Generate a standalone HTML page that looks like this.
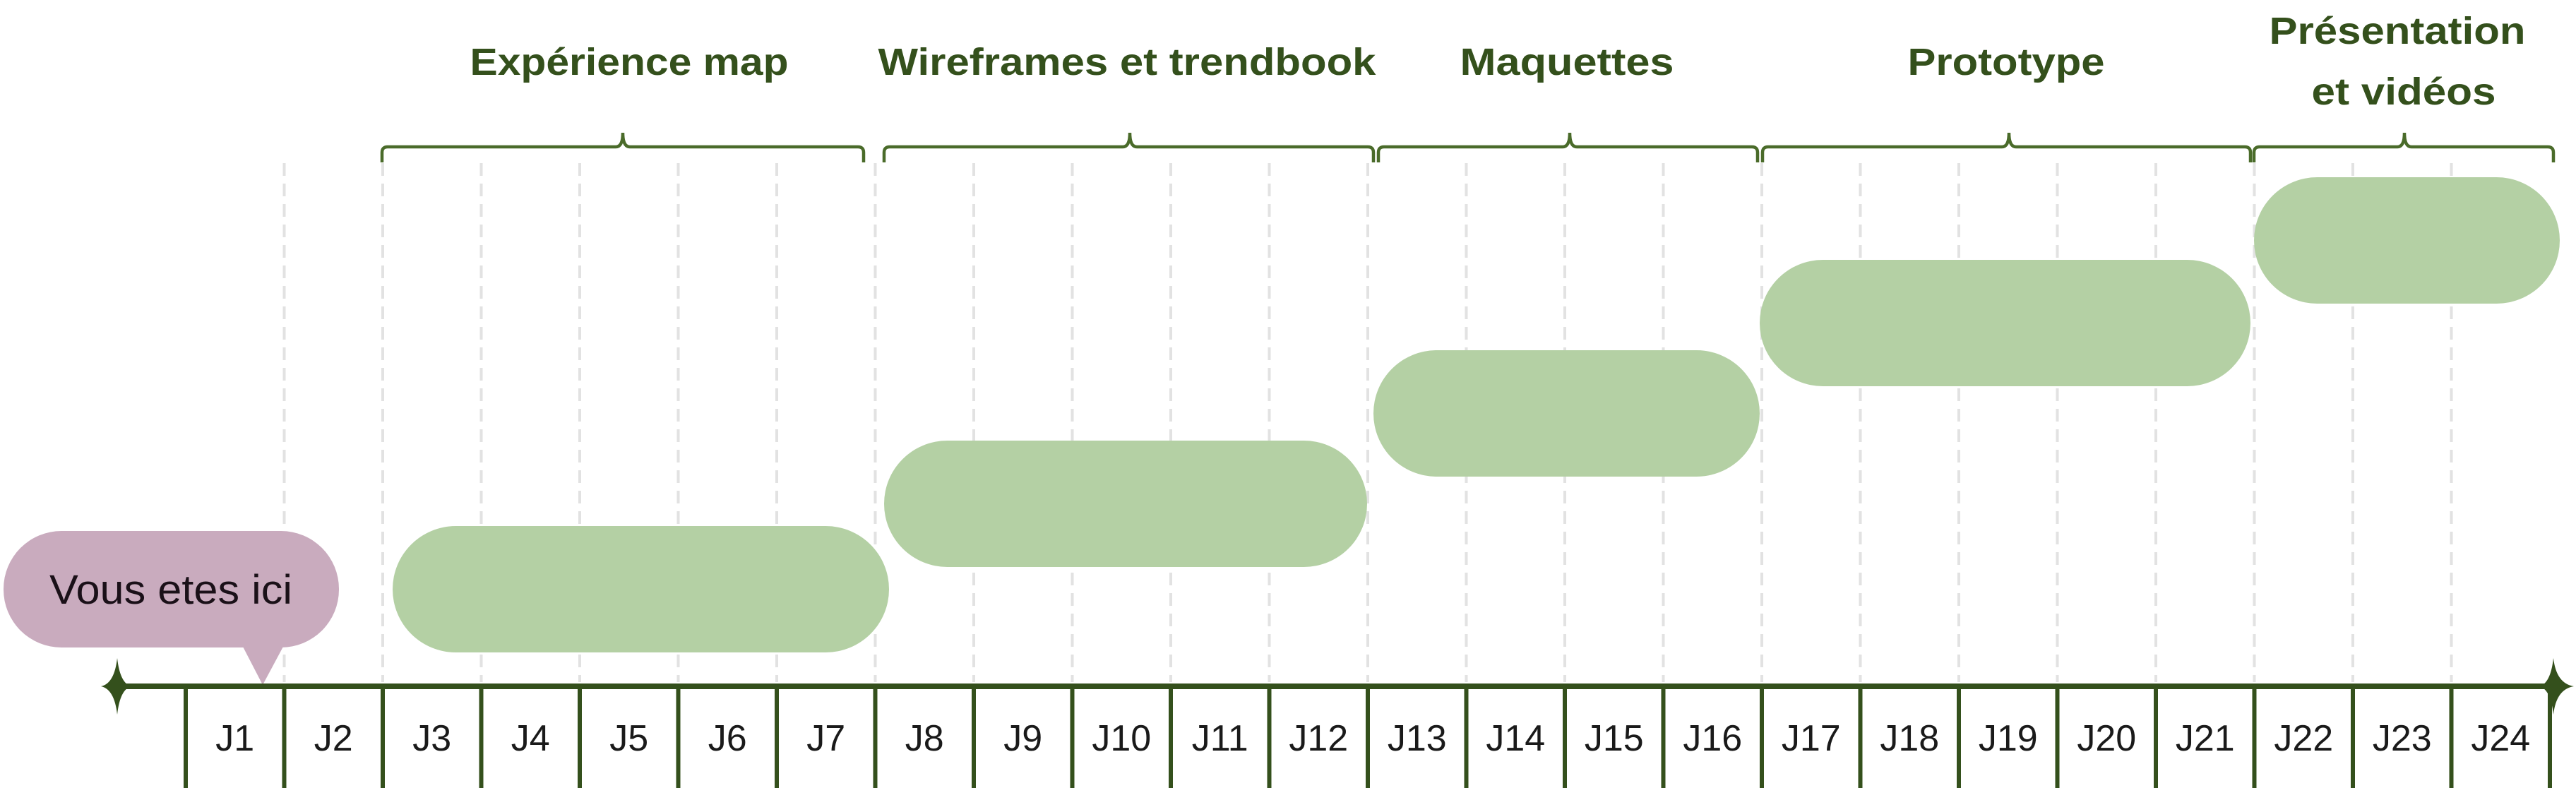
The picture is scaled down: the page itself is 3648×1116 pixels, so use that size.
<!DOCTYPE html>
<html><head><meta charset="utf-8"><style>
html,body{margin:0;padding:0;background:#fff;}
svg{display:block;}
</style></head><body>
<svg width="3648" height="1116" viewBox="0 0 3648 1116" xmlns="http://www.w3.org/2000/svg">
<g stroke="#e2e2e2" stroke-width="4" stroke-dasharray="18,11">
<line x1="402.5" y1="231" x2="402.5" y2="966"/><line x1="542" y1="231" x2="542" y2="966"/><line x1="681.5" y1="231" x2="681.5" y2="966"/><line x1="821" y1="231" x2="821" y2="966"/><line x1="960.5" y1="231" x2="960.5" y2="966"/><line x1="1100" y1="231" x2="1100" y2="966"/><line x1="1239.5" y1="231" x2="1239.5" y2="966"/><line x1="1379" y1="231" x2="1379" y2="966"/><line x1="1518.5" y1="231" x2="1518.5" y2="966"/><line x1="1658" y1="231" x2="1658" y2="966"/><line x1="1797.5" y1="231" x2="1797.5" y2="966"/><line x1="1937" y1="231" x2="1937" y2="966"/><line x1="2076.5" y1="231" x2="2076.5" y2="966"/><line x1="2216" y1="231" x2="2216" y2="966"/><line x1="2355.5" y1="231" x2="2355.5" y2="966"/><line x1="2495" y1="231" x2="2495" y2="966"/><line x1="2634.5" y1="231" x2="2634.5" y2="966"/><line x1="2774" y1="231" x2="2774" y2="966"/><line x1="2913.5" y1="231" x2="2913.5" y2="966"/><line x1="3053" y1="231" x2="3053" y2="966"/><line x1="3192.5" y1="231" x2="3192.5" y2="966"/><line x1="3332" y1="231" x2="3332" y2="966"/><line x1="3471.5" y1="231" x2="3471.5" y2="966"/>
</g>
<g fill="#b4d0a4">
<rect x="556" y="745" width="703" height="179" rx="89.5"/>
<rect x="1252" y="624" width="684" height="179" rx="89.5"/>
<rect x="1945" y="496" width="547" height="179" rx="89.5"/>
<rect x="2492" y="368" width="695" height="179" rx="89.5"/>
<rect x="3192" y="251" width="433" height="179" rx="89.5"/>
</g>
<g fill="#c9abbe">
<rect x="5" y="752" width="475" height="165" rx="82"/>
<polygon points="343,914 402,914 372,970"/>
</g>
<text x="242" y="855" font-family="Liberation Sans, sans-serif" font-size="58" fill="#1a1018" text-anchor="middle" textLength="344" lengthAdjust="spacingAndGlyphs">Vous etes ici</text>
<g stroke="#4a6b2a" stroke-width="4.5" fill="none">
<path d="M541,230 V216 Q541,208 549,208 H872 Q882,208 882,188 Q882,208 892,208 H1215 Q1223,208 1223,216 V230"/>
<path d="M1252,230 V216 Q1252,208 1260,208 H1590 Q1600,208 1600,188 Q1600,208 1610,208 H1937 Q1945,208 1945,216 V230"/>
<path d="M1952,230 V216 Q1952,208 1960,208 H2213 Q2223,208 2223,188 Q2223,208 2233,208 H2481 Q2489,208 2489,216 V230"/>
<path d="M2496,230 V216 Q2496,208 2504,208 H2835 Q2845,208 2845,188 Q2845,208 2855,208 H3179 Q3187,208 3187,216 V230"/>
<path d="M3192,230 V216 Q3192,208 3200,208 H3395 Q3405,208 3405,188 Q3405,208 3415,208 H3608 Q3616,208 3616,216 V230"/>
</g>
<g font-family="Liberation Sans, sans-serif" font-weight="bold" font-size="54" fill="#34501c" text-anchor="middle">
<text x="891" y="106" textLength="451" lengthAdjust="spacingAndGlyphs">Expérience map</text>
<text x="1596" y="106" textLength="705" lengthAdjust="spacingAndGlyphs">Wireframes et trendbook</text>
<text x="2219" y="106" textLength="303" lengthAdjust="spacingAndGlyphs">Maquettes</text>
<text x="2841" y="106" textLength="279" lengthAdjust="spacingAndGlyphs">Prototype</text>
<text x="3395" y="62" textLength="363" lengthAdjust="spacingAndGlyphs">Présentation</text>
<text x="3404" y="148" textLength="261" lengthAdjust="spacingAndGlyphs">et vidéos</text>
</g>
<g stroke="#34501c" stroke-width="6">
<line x1="170" y1="972" x2="3612" y2="972" stroke-width="8"/>
<line x1="263" y1="972" x2="263" y2="1116"/><line x1="402.5" y1="972" x2="402.5" y2="1116"/><line x1="542" y1="972" x2="542" y2="1116"/><line x1="681.5" y1="972" x2="681.5" y2="1116"/><line x1="821" y1="972" x2="821" y2="1116"/><line x1="960.5" y1="972" x2="960.5" y2="1116"/><line x1="1100" y1="972" x2="1100" y2="1116"/><line x1="1239.5" y1="972" x2="1239.5" y2="1116"/><line x1="1379" y1="972" x2="1379" y2="1116"/><line x1="1518.5" y1="972" x2="1518.5" y2="1116"/><line x1="1658" y1="972" x2="1658" y2="1116"/><line x1="1797.5" y1="972" x2="1797.5" y2="1116"/><line x1="1937" y1="972" x2="1937" y2="1116"/><line x1="2076.5" y1="972" x2="2076.5" y2="1116"/><line x1="2216" y1="972" x2="2216" y2="1116"/><line x1="2355.5" y1="972" x2="2355.5" y2="1116"/><line x1="2495" y1="972" x2="2495" y2="1116"/><line x1="2634.5" y1="972" x2="2634.5" y2="1116"/><line x1="2774" y1="972" x2="2774" y2="1116"/><line x1="2913.5" y1="972" x2="2913.5" y2="1116"/><line x1="3053" y1="972" x2="3053" y2="1116"/><line x1="3192.5" y1="972" x2="3192.5" y2="1116"/><line x1="3332" y1="972" x2="3332" y2="1116"/><line x1="3471.5" y1="972" x2="3471.5" y2="1116"/><line x1="3611" y1="972" x2="3611" y2="1116"/>
</g>
<g fill="#34501c">
<path d="M166,932 Q170,968 186,972 Q170,976 166,1012 Q162,976 143,972 Q162,968 166,932 Z"/>
<path d="M3616,932 Q3620,968 3645,972 Q3620,976 3616,1012 Q3612,976 3596,972 Q3612,968 3616,932 Z"/>
</g>
<g font-family="Liberation Sans, sans-serif" font-size="52" fill="#1a1a1a" text-anchor="middle">
<text x="332.75" y="1063">J1</text><text x="472.25" y="1063">J2</text><text x="611.75" y="1063">J3</text><text x="751.25" y="1063">J4</text><text x="890.75" y="1063">J5</text><text x="1030.25" y="1063">J6</text><text x="1169.75" y="1063">J7</text><text x="1309.25" y="1063">J8</text><text x="1448.75" y="1063">J9</text><text x="1588.25" y="1063">J10</text><text x="1727.75" y="1063">J11</text><text x="1867.25" y="1063">J12</text><text x="2006.75" y="1063">J13</text><text x="2146.25" y="1063">J14</text><text x="2285.75" y="1063">J15</text><text x="2425.25" y="1063">J16</text><text x="2564.75" y="1063">J17</text><text x="2704.25" y="1063">J18</text><text x="2843.75" y="1063">J19</text><text x="2983.25" y="1063">J20</text><text x="3122.75" y="1063">J21</text><text x="3262.25" y="1063">J22</text><text x="3401.75" y="1063">J23</text><text x="3541.25" y="1063">J24</text>
</g>
</svg>
</body></html>
